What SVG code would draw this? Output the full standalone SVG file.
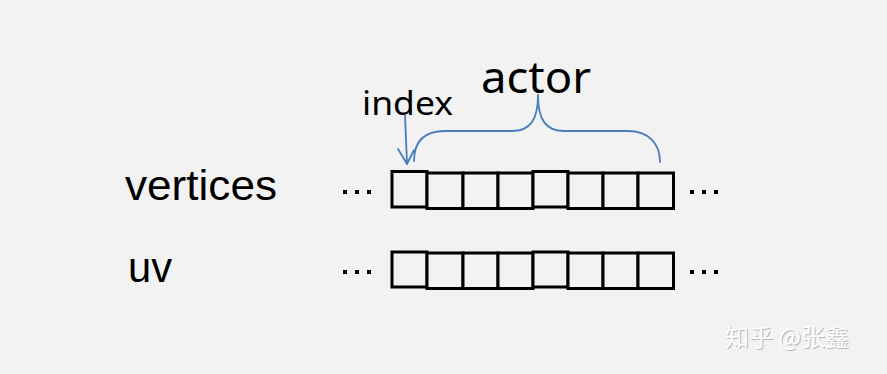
<svg xmlns="http://www.w3.org/2000/svg" width="887" height="374" viewBox="0 0 887 374">
  <defs>
    <style>
      .cell { fill: #f2f2f2; stroke: #000; stroke-width: 3; }
      .dot { fill: #000; }
      .label { font-family: "Liberation Sans", Arial, sans-serif; fill: #000; }
      .tag { font-family: "Noto Sans", "Liberation Sans", sans-serif; fill: #000; }
      .blue { fill: none; stroke: #4a7ebb; stroke-width: 1.8; stroke-linecap: round; stroke-linejoin: round; }
      .mark { font-family: "Noto Sans CJK SC", "Noto Sans", sans-serif; font-size: 24px; fill: #fff; }
    </style>
    <g id="dots">
      <rect class="dot" x="0" y="-2" width="4" height="4"/>
      <rect class="dot" x="12" y="-2" width="4" height="4"/>
      <rect class="dot" x="24" y="-2" width="4" height="4"/>
    </g>
  </defs>
  <rect width="887" height="374" fill="#f2f2f2"/>

  <!-- row labels -->
  <g id="label-vertices">
    <text class="label" x="125" y="200" font-size="42" textLength="152" lengthAdjust="spacingAndGlyphs">vertices</text>
  </g>
  <g id="label-uv">
    <text class="label" x="128" y="282" font-size="42" textLength="44" lengthAdjust="spacingAndGlyphs">uv</text>
  </g>

  <!-- vertices buffer -->
  <g id="row-vertices">
    <use href="#dots" x="343" y="192"/>
    <rect class="cell" x="392" y="171.5" width="35" height="35.5"/>
    <rect class="cell" x="427" y="173" width="36" height="35.5"/>
    <rect class="cell" x="463" y="173" width="35" height="35.5"/>
    <rect class="cell" x="498" y="173" width="35" height="35.5"/>
    <rect class="cell" x="533" y="171.5" width="35" height="35.5"/>
    <rect class="cell" x="568" y="173" width="35" height="35.5"/>
    <rect class="cell" x="603" y="173" width="35" height="35.5"/>
    <rect class="cell" x="638" y="173" width="35.5" height="35.5"/>
    <use href="#dots" x="690" y="192"/>
  </g>

  <!-- uv buffer -->
  <g id="row-uv">
    <use href="#dots" x="343" y="272"/>
    <rect class="cell" x="392" y="252" width="35" height="35"/>
    <rect class="cell" x="427" y="253" width="36" height="35.5"/>
    <rect class="cell" x="463" y="253" width="35" height="35.5"/>
    <rect class="cell" x="498" y="253" width="35" height="35.5"/>
    <rect class="cell" x="533" y="252" width="35" height="35"/>
    <rect class="cell" x="568" y="253" width="35" height="35.5"/>
    <rect class="cell" x="603" y="253" width="35" height="35.5"/>
    <rect class="cell" x="638" y="253" width="35.5" height="35.5"/>
    <use href="#dots" x="690" y="272"/>
  </g>

  <!-- annotations -->
  <g id="label-index">
    <text class="tag" x="362" y="115" font-size="33" textLength="91" lengthAdjust="spacingAndGlyphs">index</text>
  </g>
  <g id="label-actor">
    <text class="tag" x="481" y="93" font-size="44" textLength="110" lengthAdjust="spacingAndGlyphs">actor</text>
  </g>

  <g id="connectors">
    <!-- index pointer -->
    <path class="blue" d="M405 115 L407 164"/>
    <path class="blue" d="M398 149 L407 164 L414 150"/>
    <!-- actor brace -->
    <path class="blue" d="M414 161 C414 140 425 131 445 131 L512 131 C530 131 538 120 538 95 C538 120 546 131 564 131 L628 131 C648 131 660 143 660 162"/>
  </g>

  <!-- watermark -->
  <g id="watermark">
    <text class="mark" x="725" y="346" fill="#bbb" style="fill:#b8b8b8" dx="1" dy="1">知乎 @张鑫</text>
    <text class="mark" x="725" y="346">知乎 @张鑫</text>
  </g>
</svg>
